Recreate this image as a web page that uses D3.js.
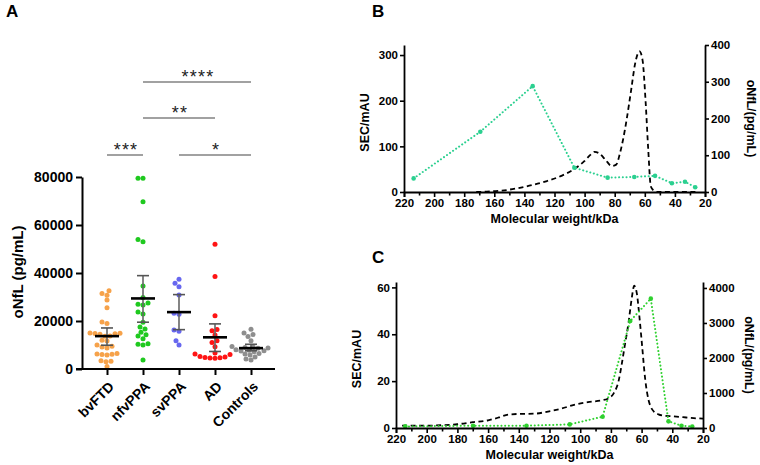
<!DOCTYPE html>
<html><head><meta charset="utf-8">
<script src="https://cdn.jsdelivr.net/npm/d3@7"></script>
<style>
body{margin:0;background:#fff}
svg{display:block}
text{font-family:"Liberation Sans",Arial,sans-serif;font-weight:bold;fill:#000}
</style>
</head><body>
<svg id="c" width="760" height="465"></svg>
<script>
// ---------- Panel A data ----------
const groups = ["bvFTD","nfvPPA","svPPA","AD","Controls"];
const groupColors = ["#f6a24a","#1fc91f","#6767ef","#ff1414","#8e8e8e"];
const bvFTD = [32600,31500,30700,28700,25500,19600,19000,15000,14800,14900,14700,14500,13800,13600,12000,11700,10000,9500,9200,8800,6500,6300,6000,6100,5800,3200,3400,3000,1000];
const nfvPPA = [79500,79500,69700,54000,53000,34600,29800,27500,26700,27000,23800,22900,19500,17500,16700,15300,14300,13700,12600,10500,10000,10300,3700];
const svPPA = [37400,35700,34300,30800,22800,23200,15700,16200,11800,10000];
const AD = [52000,38500,22200,16500,15900,14200,11800,11000,9300,6700,6300,6000,5000,4800,4600,4500,4700,5200];
const Controls = [16600,15000,14400,13500,11800,9200,9400,9000,8800,8600,8000,7800,7600,7500,7200,6500,6300,5800,5000,4200,3800];
const groupValues = [bvFTD,nfvPPA,svPPA,AD,Controls];
const groupMean = [13700,29400,23700,13200,8700];
const groupLow = [9900,19500,16400,7300,7600];
const groupHigh = [17100,38900,31000,18800,10300];
const yTicksA = [0,20000,40000,60000,80000];
// significance brackets
const sigFrom = ["bvFTD","nfvPPA","nfvPPA","svPPA"];
const sigTo = ["nfvPPA","AD","Controls","Controls"];
const sigLabel = ["***","**","****","*"];
const sigLevel = [0,1,2,0];

// ---------- Panel B data ----------
const bSecMw = [172,165,155,145,135,125,115,107,100,96,93.5,90,86,82,79,76.5,74.5,72,69,66.5,63.5,61.5,59.5,57.7,56,54,52,45,35,25];
const bSec = [0,1,3,8,15,24,36,50,68,82,88,84,70,57,60,85,114,160,225,280,308,289,200,92,12,3,0,0,0,0];
const bOnflMw = [213.6,169.3,134.5,106.8,84.7,67,53.2,42,33.3,26.5];
const bOnfl = [37,164,288,66,39,41,44,24,28,13];

// ---------- Panel C data ----------
const cSecMw = [216,200,190,180,170,160,153,147,140,130,121,112,104,95,86,82,78,75,73,71,68.5,66.5,64.8,63,61.5,59.8,57.6,55.5,54,52,49,45,40,33,26,20];
const cSec = [1,1,1.2,1.6,2.5,3.3,4.5,5.7,6,6.1,7,8.3,9.9,11,11.8,12.5,15,20,27,35,45,55,60.7,57,48,36,20.5,12,9,7,5.8,5.2,5,4.6,4.2,4];
const cOnflMw = [214,169.8,135,106.8,85.4,67.4,54,42.5,34,27];
const cOnfl = [45,66,66,103,323,3057,3694,190,66,40];

const mwTicks = d3.range(20,221,10);

const svg = d3.select("#c");
const FONT = "'Liberation Sans',Arial,sans-serif";

// ================= Panel A =================
const xA = d3.scalePoint().domain(groups).range([107,251]);
const yA = d3.scaleLinear().domain([0,80000]).range([369,177]);

const gA = svg.append("g");
const r = 2.5, diam = 4.8;
groups.forEach((g,gi)=>{
  const vals = groupValues[gi].slice().sort((a,b)=>a-b);
  const placed = [];
  vals.forEach(v=>{
    const y = yA(v);
    let best = 0;
    for (let k=0;k<60;k++){
      const off = (k%2===0?1:-1)*Math.ceil(k/2)*1;
      const ok = placed.every(p=>Math.hypot(p.dx-off,p.y-y)>=diam);
      if(ok){best=off;break;}
    }
    placed.push({dx:best,y:y});
  });
  gA.append("g").selectAll("circle").data(placed).join("circle")
    .attr("cx",d=>xA(g)+d.dx).attr("cy",d=>d.y).attr("r",r)
    .attr("fill",groupColors[gi]);
});
groups.forEach((g,gi)=>{
  const x = xA(g);
  gA.append("line").attr("x1",x).attr("x2",x).attr("y1",yA(groupLow[gi])).attr("y2",yA(groupHigh[gi]))
    .attr("stroke","#666").attr("stroke-width",1.6);
  [groupLow[gi],groupHigh[gi]].forEach(v=>{
    gA.append("line").attr("x1",x-6).attr("x2",x+6).attr("y1",yA(v)).attr("y2",yA(v))
      .attr("stroke","#555").attr("stroke-width",1.6);
  });
  gA.append("line").attr("x1",x-12).attr("x2",x+12).attr("y1",yA(groupMean[gi])).attr("y2",yA(groupMean[gi]))
    .attr("stroke","#000").attr("stroke-width",2.6);
});
const axA = gA.append("g").attr("transform","translate(82,0)")
  .call(d3.axisLeft(yA).tickValues(yTicksA).tickSize(6).tickSizeOuter(0).tickPadding(3).tickFormat(d3.format("d")));
axA.select(".domain").attr("stroke-width",2);
axA.selectAll(".tick line").attr("stroke-width",2);
axA.selectAll("text").attr("font-size",14).style("font-family",FONT).style("font-weight","bold");
const axX = gA.append("g").attr("transform","translate(0,369)")
  .call(d3.axisBottom(xA).tickSize(6).tickSizeOuter(0));
axX.select(".domain").remove();
axX.selectAll(".tick line").attr("stroke-width",2);
axX.selectAll("text").attr("font-size",14).attr("text-anchor","end")
  .attr("x",0).attr("y",0).attr("dy","0.35em")
  .attr("transform","translate(4,15) rotate(-45)")
  .style("font-family",FONT).style("font-weight","bold");
gA.append("line").attr("x1",76).attr("x2",275).attr("y1",369).attr("y2",369).attr("stroke","#000").attr("stroke-width",2);
gA.append("text").attr("transform","translate(23,272) rotate(-90)").attr("text-anchor","middle")
  .attr("font-size",15).text("oNfL (pg/mL)");
const sigY = [155,118,82];
sigFrom.forEach((f,i)=>{
  const x1 = xA(f), x2 = xA(sigTo[i]), y = sigY[sigLevel[i]];
  gA.append("line").attr("x1",x1).attr("x2",x2).attr("y1",y).attr("y2",y).attr("stroke","#444").attr("stroke-width",1.2);
  gA.append("text").attr("x",(x1+x2)/2+1).attr("y",y+1).attr("text-anchor","middle")
    .attr("font-size",18).attr("letter-spacing",1.2).style("font-weight","normal").style("fill","#222").text(sigLabel[i]);
});
svg.append("text").attr("x",6).attr("y",17).attr("font-size",17).text("A");

// ============ helper for B / C ============
function drawPanel(opt){
  const g = svg.append("g");
  const x = d3.scaleLinear().domain([220,20]).range([opt.x0,opt.x1]);
  const yl = d3.scaleLinear().domain([0,opt.lmax]).range([opt.yb,opt.yt]);
  const yr = d3.scaleLinear().domain([0,opt.rmax]).range([opt.yb,opt.yt]);
  const secLine = d3.line().x((d,i)=>x(opt.secMw[i])).y(d=>yl(d)).curve(d3.curveMonotoneX);
  g.append("path").attr("d",secLine(opt.sec)).attr("fill","none").attr("stroke","#000")
    .attr("stroke-width",1.8).attr("stroke-dasharray","5,3.5");
  const onLine = d3.line().x((d,i)=>x(opt.onMw[i])).y(d=>yr(d));
  g.append("path").attr("d",onLine(opt.on)).attr("fill","none").attr("stroke",opt.green)
    .attr("stroke-width",2).attr("stroke-dasharray","0.1,3.6").attr("stroke-linecap","round");
  g.append("g").selectAll("circle").data(opt.on).join("circle")
    .attr("cx",(d,i)=>x(opt.onMw[i])).attr("cy",d=>yr(d)).attr("r",2.3).attr("fill",opt.green);
  const ax = g.append("g").attr("transform",`translate(0,${opt.yb})`)
    .call(d3.axisBottom(x).tickValues(mwTicks).tickSizeOuter(0).tickSize(5).tickPadding(2)
      .tickFormat(d=>d%20===0?d:""));
  ax.selectAll(".tick line").attr("y2",d=>d%20===0?5:3.5);
  const al = g.append("g").attr("transform",`translate(${opt.x0},0)`)
    .call(d3.axisLeft(yl).tickValues(opt.lt).tickSize(4).tickSizeOuter(0).tickPadding(2).tickFormat(d3.format("d")));
  const ar = g.append("g").attr("transform",`translate(${opt.x1},0)`)
    .call(d3.axisRight(yr).tickValues(opt.rt).tickSize(4).tickSizeOuter(0).tickPadding(2).tickFormat(d3.format("d")));
  [ax,al,ar].forEach(a=>{
    a.select(".domain").attr("stroke-width",1.8);
    a.selectAll(".tick line").attr("stroke-width",1.6);
    a.selectAll("text").attr("font-size",11.5).style("font-family",FONT).style("font-weight","bold");
  });
  const yc = (opt.yb+opt.yt)/2;
  g.append("text").attr("x",(opt.x0+opt.x1)/2).attr("y",opt.yb+31).attr("text-anchor","middle")
    .attr("font-size",12.5).text("Molecular weight/kDa");
  g.append("text").attr("transform",`translate(${opt.x0-35},${yc+4}) rotate(-90)`).attr("text-anchor","middle")
    .attr("font-size",12.5).text("SEC/mAU");
  g.append("text").attr("transform",`translate(${opt.x1+42},${yc}) rotate(90)`).attr("text-anchor","middle")
    .attr("font-size",12.5).text("oNfL/(pg/mL)");
}

drawPanel({x0:404,x1:705,yb:192,yt:45,lmax:322,rmax:400,lt:[0,100,200,300],rt:[0,100,200,300,400],
  secMw:bSecMw,sec:bSec,onMw:bOnflMw,on:bOnfl,green:"#2bd090"});
drawPanel({x0:396,x1:703,yb:428,yt:282,lmax:62.3,rmax:4170,lt:[0,20,40,60],rt:[0,1000,2000,3000,4000],
  secMw:cSecMw,sec:cSec,onMw:cOnflMw,on:cOnfl,green:"#2fd12f"});

svg.append("text").attr("x",372).attr("y",17).attr("font-size",17).text("B");
svg.append("text").attr("x",372).attr("y",263).attr("font-size",17).text("C");
</script>
</body></html>
